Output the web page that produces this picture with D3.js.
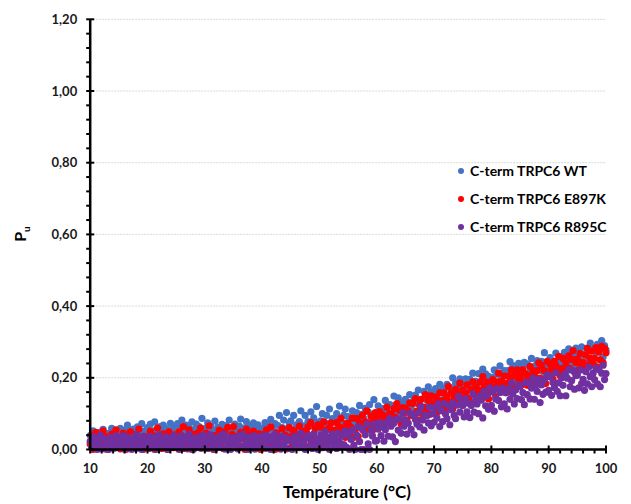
<!DOCTYPE html>
<html><head><meta charset="utf-8">
<script src="https://cdn.jsdelivr.net/npm/d3@7"></script>
<style>html,body{margin:0;padding:0;background:#fff;} svg{display:block;font-family:Lato,"Liberation Sans",sans-serif;}</style>
</head><body>
<svg id="chart" width="631" height="504"></svg>
<script>
// Temperatures sampled every 0.25 °C from 10 to 100
const xStart = 10, xStep = 0.25;
const seriesNames = ["C-term TRPC6 WT", "C-term TRPC6 E897K", "C-term TRPC6 R895C"];
const seriesColors = ["#4472C4", "#FF0000", "#7030A0"];
const yTickLabels = ["0,00","0,20","0,40","0,60","0,80","1,00","1,20"];
const xTickLabels = ["10","20","30","40","50","60","70","80","90","100"];

const wt = [
0.039,0.022,0.052,0.031,0.043,0.014,0.035,0.048,0.027,0.056,0.019,0.038,0.033,0.045,0.025,0.059,0.030,0.041,0.016,0.047,
0.038,0.059,0.046,0.025,0.054,0.042,0.068,0.033,0.050,0.019,0.057,0.044,0.036,0.063,0.030,0.047,0.072,0.039,0.052,0.027,
0.061,0.046,0.071,0.034,0.052,0.077,0.041,0.056,0.028,0.064,0.049,0.068,0.038,0.058,0.023,0.053,0.073,0.044,0.062,0.035,
0.049,0.072,0.034,0.059,0.082,0.042,0.053,0.068,0.028,0.061,0.046,0.077,0.038,0.056,0.071,0.032,0.064,0.050,0.087,0.043,
0.058,0.037,0.074,0.045,0.065,0.029,0.053,0.079,0.041,0.062,0.033,0.056,0.070,0.024,0.051,0.067,0.043,0.082,0.038,0.060,
0.042,0.071,0.056,0.029,0.065,0.085,0.047,0.060,0.036,0.078,0.051,0.066,0.024,0.061,0.074,0.041,0.055,0.069,0.033,0.059,
0.059,0.038,0.075,0.050,0.065,0.036,0.084,0.058,0.047,0.072,0.035,0.067,0.095,0.048,0.061,0.082,0.057,0.103,0.046,0.073,
0.080,0.048,0.095,0.056,0.069,0.041,0.078,0.108,0.055,0.066,0.095,0.049,0.078,0.037,0.105,0.068,0.088,0.056,0.120,0.076,
0.055,0.080,0.100,0.045,0.074,0.095,0.065,0.113,0.054,0.086,0.045,0.081,0.100,0.064,0.121,0.080,0.057,0.095,0.113,0.072,
0.092,0.060,0.083,0.108,0.071,0.058,0.103,0.091,0.123,0.072,0.099,0.086,0.115,0.058,0.105,0.125,0.079,0.097,0.139,0.087,
0.092,0.122,0.075,0.106,0.114,0.091,0.137,0.108,0.077,0.125,0.123,0.101,0.149,0.109,0.091,0.144,0.111,0.132,0.093,0.124,
0.140,0.107,0.130,0.153,0.115,0.106,0.141,0.152,0.129,0.166,0.124,0.140,0.108,0.162,0.149,0.138,0.175,0.125,0.161,0.146,
0.138,0.170,0.153,0.125,0.182,0.164,0.139,0.170,0.151,0.182,0.134,0.173,0.163,0.200,0.153,0.185,0.146,0.174,0.197,0.154,
0.182,0.157,0.197,0.144,0.176,0.196,0.172,0.213,0.158,0.190,0.174,0.212,0.160,0.191,0.224,0.187,0.211,0.174,0.204,0.160,
0.177,0.201,0.222,0.186,0.210,0.175,0.233,0.202,0.187,0.220,0.214,0.175,0.221,0.245,0.200,0.234,0.191,0.221,0.206,0.240,
0.227,0.191,0.216,0.243,0.202,0.238,0.190,0.226,0.254,0.212,0.206,0.235,0.248,0.193,0.224,0.246,0.218,0.270,0.206,0.235,
0.223,0.256,0.206,0.242,0.234,0.269,0.222,0.243,0.217,0.255,0.239,0.271,0.213,0.256,0.281,0.236,0.269,0.224,0.256,0.283,
0.268,0.232,0.257,0.286,0.244,0.231,0.269,0.283,0.254,0.297,0.248,0.283,0.235,0.272,0.293,0.272,0.250,0.304,0.258,0.290,
0.278];

const e897k = [
0.015,0.040,0.000,0.027,0.048,0.008,0.024,0.033,0.003,0.052,0.019,0.036,0.000,0.030,0.012,0.043,0.006,0.023,0.055,0.016,
0.034,0.002,0.025,0.046,0.013,0.000,0.038,0.020,0.050,0.009,0.029,0.004,0.042,0.017,0.057,0.011,0.026,0.000,0.037,0.021,
0.007,0.028,0.051,0.014,0.039,0.000,0.023,0.060,0.010,0.031,0.003,0.044,0.018,0.035,0.000,0.049,0.013,0.026,0.005,0.041,
0.027,0.006,0.049,0.018,0.038,0.064,0.003,0.033,0.013,0.055,0.022,0.000,0.042,0.030,0.009,0.046,0.016,0.060,0.004,0.035,
0.014,0.045,0.021,0.066,0.007,0.031,0.000,0.039,0.025,0.011,0.054,0.018,0.035,0.003,0.050,0.023,0.062,0.009,0.029,0.042,
0.064,0.016,0.037,0.004,0.028,0.048,0.009,0.033,0.000,0.057,0.020,0.040,0.013,0.025,0.051,0.005,0.030,0.015,0.044,0.000,
0.021,0.042,0.004,0.055,0.031,0.013,0.063,0.018,0.037,0.000,0.047,0.027,0.009,0.034,0.058,0.016,0.040,0.002,0.029,0.061,
0.036,0.011,0.053,0.023,0.042,0.009,0.065,0.033,0.021,0.050,0.009,0.045,0.063,0.032,0.075,0.024,0.044,0.060,0.019,0.069,
0.030,0.062,0.040,0.077,0.022,0.055,0.021,0.061,0.074,0.039,0.054,0.035,0.075,0.023,0.063,0.087,0.045,0.061,0.034,0.073,
0.073,0.044,0.062,0.088,0.034,0.055,0.086,0.037,0.075,0.065,0.095,0.052,0.077,0.108,0.059,0.072,0.093,0.053,0.088,0.103,
0.062,0.089,0.106,0.074,0.097,0.062,0.089,0.118,0.074,0.100,0.099,0.072,0.114,0.090,0.128,0.083,0.109,0.071,0.117,0.102,
0.115,0.082,0.107,0.130,0.095,0.128,0.096,0.142,0.107,0.083,0.124,0.140,0.099,0.118,0.153,0.111,0.137,0.098,0.150,0.127,
0.122,0.146,0.103,0.137,0.158,0.120,0.136,0.158,0.114,0.146,0.176,0.132,0.157,0.113,0.146,0.168,0.130,0.154,0.185,0.143,
0.166,0.133,0.158,0.180,0.142,0.132,0.167,0.189,0.153,0.174,0.148,0.166,0.188,0.141,0.203,0.176,0.156,0.188,0.141,0.179,
0.162,0.195,0.174,0.149,0.189,0.213,0.172,0.190,0.161,0.205,0.184,0.159,0.205,0.192,0.222,0.178,0.206,0.171,0.222,0.195,
0.205,0.180,0.223,0.191,0.211,0.179,0.206,0.232,0.190,0.220,0.209,0.181,0.220,0.242,0.199,0.235,0.195,0.220,0.184,0.246,
0.204,0.238,0.223,0.196,0.246,0.234,0.216,0.260,0.206,0.226,0.254,0.205,0.242,0.226,0.261,0.226,0.252,0.276,0.216,0.242,
0.252,0.222,0.268,0.234,0.243,0.222,0.263,0.282,0.236,0.254,0.274,0.238,0.254,0.284,0.230,0.272,0.250,0.288,0.242,0.282,
0.270];

const r895c = [
0.023,0.005,0.036,0.013,0.028,0.000,0.019,0.040,0.008,0.031,0.002,0.025,0.018,0.000,0.034,0.011,0.027,0.004,0.038,0.015,
0.007,0.032,0.014,0.039,0.001,0.024,0.035,0.009,0.020,0.000,0.029,0.012,0.042,0.004,0.026,0.018,0.000,0.037,0.010,0.030,
0.021,0.003,0.037,0.026,0.009,0.033,0.000,0.018,0.041,0.012,0.028,0.005,0.023,0.035,0.000,0.015,0.031,0.008,0.039,0.013,
0.030,0.010,0.000,0.038,0.020,0.006,0.034,0.025,0.002,0.042,0.013,0.027,0.000,0.032,0.018,0.008,0.036,0.004,0.023,0.040,
0.012,0.035,0.003,0.026,0.041,0.008,0.020,0.000,0.031,0.015,0.037,0.006,0.024,0.044,0.001,0.028,0.011,0.033,0.000,0.021,
0.033,0.014,0.025,0.002,0.038,0.009,0.029,0.043,0.005,0.019,0.000,0.034,0.022,0.011,0.039,0.001,0.027,0.016,0.036,0.007,
0.009,0.028,0.040,0.004,0.022,0.035,0.000,0.026,0.013,0.043,0.007,0.031,0.018,0.001,0.037,0.010,0.033,0.023,0.003,0.029,
0.027,0.000,0.020,0.037,0.011,0.030,0.005,0.045,0.015,0.024,0.000,0.033,0.039,0.008,0.021,0.003,0.042,0.014,0.028,0.000,
0.016,0.040,0.005,0.027,0.049,0.010,0.034,0.000,0.023,0.043,0.012,0.031,0.003,0.046,0.020,0.008,0.037,0.014,0.052,0.006,
0.042,0.000,0.028,0.054,0.012,0.000,0.040,0.064,0.022,0.000,0.056,0.000,0.041,0.071,0.016,0.000,0.053,0.038,0.071,0.023,
0.025,0.057,0.075,0.039,0.064,0.023,0.055,0.075,0.037,0.087,0.065,0.035,0.074,0.022,0.084,0.054,0.085,0.045,0.103,0.065,
0.082,0.043,0.073,0.101,0.056,0.097,0.041,0.084,0.071,0.103,0.063,0.119,0.082,0.054,0.097,0.094,0.074,0.118,0.066,0.100,
0.076,0.116,0.088,0.127,0.064,0.108,0.078,0.128,0.099,0.086,0.122,0.069,0.111,0.130,0.095,0.086,0.124,0.148,0.104,0.131,
0.122,0.091,0.141,0.105,0.129,0.089,0.123,0.155,0.104,0.139,0.127,0.100,0.150,0.138,0.088,0.162,0.122,0.149,0.112,0.172,
0.123,0.161,0.107,0.141,0.170,0.137,0.159,0.119,0.171,0.127,0.158,0.113,0.168,0.140,0.186,0.155,0.127,0.167,0.142,0.180,
0.175,0.139,0.159,0.125,0.187,0.153,0.186,0.141,0.171,0.199,0.140,0.180,0.162,0.196,0.131,0.180,0.154,0.194,0.160,0.208,
0.165,0.203,0.151,0.187,0.173,0.214,0.162,0.186,0.150,0.200,0.179,0.210,0.150,0.199,0.223,0.175,0.192,0.220,0.168,0.206,
0.208,0.172,0.222,0.184,0.196,0.165,0.217,0.183,0.230,0.203,0.175,0.213,0.195,0.227,0.183,0.223,0.175,0.213,0.235,0.195,
0.212];

const seriesValues = [wt, e897k, r895c];

const svg = d3.select("#chart");
const x = d3.scaleLinear().domain([10, 100]).range([90.2, 606]);
const y = d3.scaleLinear().domain([0, 1.2]).range([449.5, 19.3]);

// gridlines
const majorY = d3.range(0, 7).map(i => i * 0.2);
svg.append("g").selectAll("line").data(majorY.slice(1)).join("line")
  .attr("x1", x(10)).attr("x2", x(100))
  .attr("y1", d => y(d)).attr("y2", d => y(d))
  .attr("stroke", "#d9d9d9").attr("stroke-width", 1).attr("stroke-dasharray", "2,1");

// points
const pts = svg.append("g");
seriesValues.forEach((vals, si) => {
  pts.append("g").selectAll("circle").data(vals).join("circle")
    .attr("cx", (d, i) => x(xStart + i * xStep))
    .attr("cy", d => y(d))
    .attr("r", 3.6)
    .attr("fill", seriesColors[si]);
});

// axes
const axisG = svg.append("g");
const minorY = d3.range(0, 31).map(i => i * 0.04).filter((d, i) => i % 5 !== 0);
axisG.append("g").selectAll("line").data(minorY).join("line")
  .attr("x1", x(10) - 4).attr("x2", x(10))
  .attr("y1", d => y(d)).attr("y2", d => y(d))
  .attr("stroke", "#000").attr("stroke-width", 2);
axisG.append("g").selectAll("line").data(majorY).join("line")
  .attr("x1", x(10) - 4).attr("x2", x(10) + 4)
  .attr("y1", d => y(d)).attr("y2", d => y(d))
  .attr("stroke", "#000").attr("stroke-width", 2);
const majorX = d3.range(10, 101, 10);
const minorX = d3.range(10, 101, 2).filter(d => d % 10 !== 0);
axisG.append("g").selectAll("line").data(minorX).join("line")
  .attr("x1", d => x(d)).attr("x2", d => x(d))
  .attr("y1", y(0)).attr("y2", y(0) + 4)
  .attr("stroke", "#000").attr("stroke-width", 2);
axisG.append("g").selectAll("line").data(majorX).join("line")
  .attr("x1", d => x(d)).attr("x2", d => x(d))
  .attr("y1", y(0) - 4).attr("y2", y(0) + 4)
  .attr("stroke", "#000").attr("stroke-width", 2);
axisG.append("line").attr("x1", x(10)).attr("x2", x(10)).attr("y1", y(0)).attr("y2", y(1.2))
  .attr("stroke", "#000").attr("stroke-width", 2.5);
axisG.append("line").attr("x1", x(10)).attr("x2", x(100)).attr("y1", y(0)).attr("y2", y(0))
  .attr("stroke", "#000").attr("stroke-width", 2.5);

// tick labels
svg.append("g").selectAll("text").data(majorY).join("text")
  .attr("x", x(10) - 13).attr("y", d => y(d)).attr("dy", "0.35em")
  .attr("text-anchor", "end").attr("font-size", 13).attr("font-weight", "bold").attr("fill", "#1a1a1a")
  .text((d, i) => yTickLabels[i]);
svg.append("g").selectAll("text").data(majorX).join("text")
  .attr("x", d => x(d)).attr("y", 468).attr("dy", "0.35em")
  .attr("text-anchor", "middle").attr("font-size", 13).attr("font-weight", "bold").attr("fill", "#1a1a1a")
  .text((d, i) => xTickLabels[i]);

// axis titles
svg.append("text").attr("x", 347).attr("y", 498).attr("text-anchor", "middle")
  .attr("font-size", 17).attr("font-weight", "bold").attr("fill", "#000").text("Température (°C)");
const yl = svg.append("text").attr("transform", "translate(26,234) rotate(-90)")
  .attr("text-anchor", "middle").attr("font-size", 16).attr("font-weight", "bold").attr("fill", "#000");
yl.append("tspan").text("P");
yl.append("tspan").attr("font-size", 10).attr("dy", 4).text("u");

// legend
const leg = svg.append("g");
seriesNames.forEach((name, i) => {
  const ly = 171 + i * 28;
  leg.append("circle").attr("cx", 461).attr("cy", ly).attr("r", 3).attr("fill", seriesColors[i]);
  leg.append("text").attr("x", 470).attr("y", ly).attr("dy", "0.35em")
    .attr("font-size", 14).attr("font-weight", "bold").attr("fill", "#000").text(name);
});
</script>
</body></html>
